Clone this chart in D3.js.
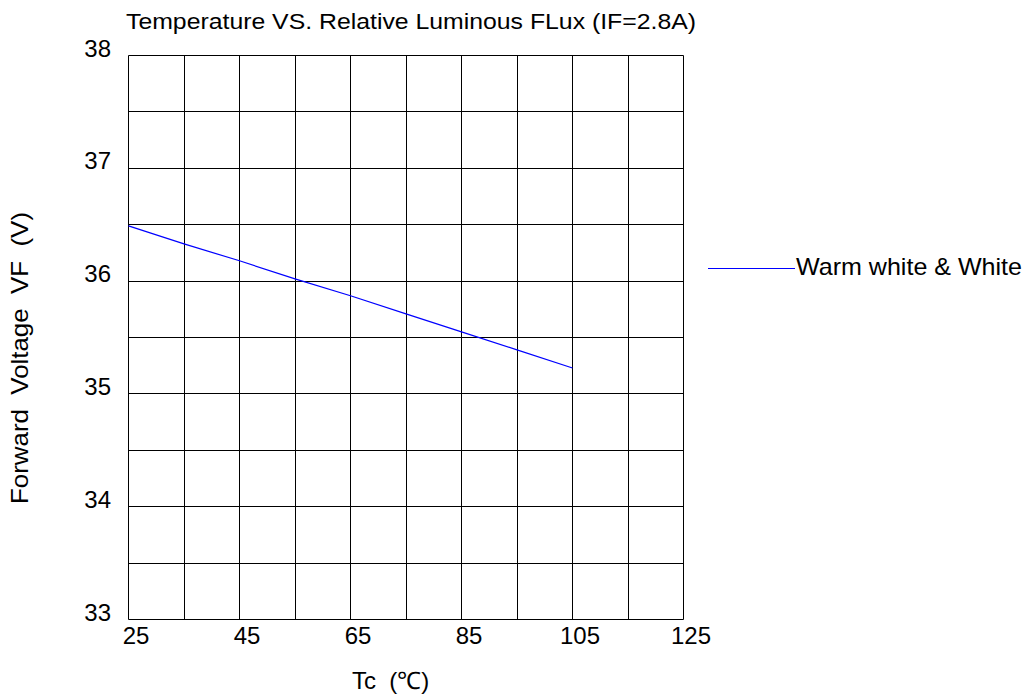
<!DOCTYPE html>
<html>
<head>
<meta charset="utf-8">
<script src="https://cdn.jsdelivr.net/npm/d3@7"></script>
<style>
html,body{margin:0;padding:0;background:#fff;}
svg{display:block;font-family:"Liberation Sans",Arial,sans-serif;}
</style>
</head>
<body>
<svg id="chart" width="1030" height="700"></svg>
<script>
const titleText = "Temperature VS. Relative Luminous FLux (IF=2.8A)";
const xTitle = "Tc  (\u2103)";
const yTitle = "Forward  Voltage  VF  (V)";
const seriesName = "Warm white & White";
const temps = [25, 35, 45, 55, 65, 75, 85, 95, 105];
const vf = [36.49, 36.33, 36.18, 36.02, 35.87, 35.71, 35.55, 35.39, 35.23];
const xTickLabels = [25, 45, 65, 85, 105, 125];
const yTickLabels = [33, 34, 35, 36, 37, 38];
const xGrid = [25, 35, 45, 55, 65, 75, 85, 95, 105, 115, 125];
const yGrid = [33, 33.5, 34, 34.5, 35, 35.5, 36, 36.5, 37, 37.5, 38];

const FONT = "Liberation Sans, Arial, sans-serif";
const svg = d3.select("#chart");
const L = 128.5, R = 683.5, T = 55.5, B = 619.5;
const x = d3.scaleLinear().domain([25, 125]).range([L, R]);
const y = d3.scaleLinear().domain([33, 38]).range([B, T]);
const snap = v => Math.round(v - 0.5) + 0.5;

const g = svg.append("g");
g.selectAll("line.vg").data(xGrid).enter().append("line")
  .attr("x1", d => snap(x(d))).attr("x2", d => snap(x(d)))
  .attr("y1", T).attr("y2", B)
  .attr("stroke", "#000").attr("stroke-width", 1);
g.selectAll("line.hg").data(yGrid).enter().append("line")
  .attr("y1", d => snap(y(d))).attr("y2", d => snap(y(d)))
  .attr("x1", L).attr("x2", R)
  .attr("stroke", "#000").attr("stroke-width", 1);

const xAxis = d3.axisBottom(x).tickValues(xTickLabels).tickSize(0).tickPadding(0).tickFormat(d3.format("d"));
const xa = svg.append("g").attr("transform", `translate(7,${B + 16.5})`).call(xAxis);
xa.select(".domain").remove();
xa.selectAll("text").attr("font-size", 24).attr("fill", "#000").attr("font-family", FONT).attr("dy", "0.35em");

const yAxis = d3.axisLeft(y).tickValues(yTickLabels).tickSize(0).tickPadding(0).tickFormat(d3.format("d"));
const ya = svg.append("g").attr("transform", `translate(111,-7)`).call(yAxis);
ya.select(".domain").remove();
ya.selectAll("text").attr("font-size", 24).attr("fill", "#000").attr("font-family", FONT);

const line = d3.line().x((d, i) => x(temps[i])).y(d => y(d));
svg.append("path").datum(vf).attr("d", line)
  .attr("fill", "none").attr("stroke", "#0000ff").attr("stroke-width", 1.2);

// legend
svg.append("line").attr("x1", 708).attr("x2", 795).attr("y1", 268.5).attr("y2", 268.5)
  .attr("stroke", "#0000ff").attr("stroke-width", 1.2);
svg.append("text").attr("x", 796).attr("y", 275).attr("font-size", 24)
  .attr("textLength", 226).attr("lengthAdjust", "spacingAndGlyphs").text(seriesName);

// title
svg.append("text").attr("x", 126).attr("y", 28.5).attr("font-size", 21.5)
  .attr("textLength", 570).attr("lengthAdjust", "spacingAndGlyphs").text(titleText);

// x title
svg.append("text").attr("x", 352).attr("y", 689).attr("font-size", 24)
  .attr("xml:space", "preserve").style("white-space", "pre").text(xTitle);

// y title
svg.append("text").attr("transform", "translate(28,358) rotate(-90)").attr("text-anchor", "middle")
  .attr("font-size", 24).attr("textLength", 292).attr("lengthAdjust", "spacingAndGlyphs")
  .attr("xml:space", "preserve").style("white-space", "pre").text(yTitle);
</script>
</body>
</html>
